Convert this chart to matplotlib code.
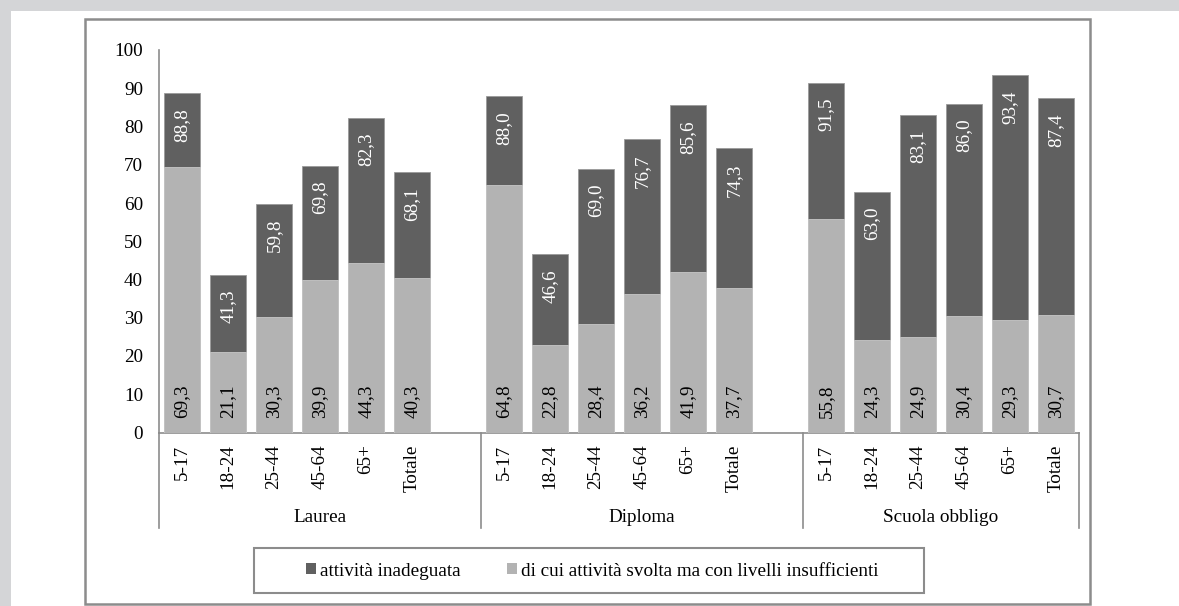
import matplotlib
matplotlib.use("Agg")
import matplotlib.pyplot as plt
from matplotlib.patches import Rectangle, Patch

# Data: share of population by education level and age class
groups = ["Laurea", "Diploma", "Scuola obbligo"]
ages = ["5-17", "18-24", "25-44", "45-64", "65+", "Totale"]

inadeguata_laurea = [88.8, 41.3, 59.8, 69.8, 82.3, 68.1]
inadeguata_diploma = [88.0, 46.6, 69.0, 76.7, 85.6, 74.3]
inadeguata_obbligo = [91.5, 63.0, 83.1, 86.0, 93.4, 87.4]

insufficiente_laurea = [69.3, 21.1, 30.3, 39.9, 44.3, 40.3]
insufficiente_diploma = [64.8, 22.8, 28.4, 36.2, 41.9, 37.7]
insufficiente_obbligo = [55.8, 24.3, 24.9, 30.4, 29.3, 30.7]

y_ticks = [0, 10, 20, 30, 40, 50, 60, 70, 80, 90, 100]

label_dark = "attività inadeguata"
label_light = "di cui attività svolta ma con livelli insufficienti"

DARK = "#606060"
LIGHT = "#b3b3b3"
FRAME = "#8c8c8c"
FONT = "Liberation Serif"
FS = 13.8

W, H = 1179, 606
fig = plt.figure(figsize=(W / 100, H / 100), dpi=100, facecolor="#d4d5d7")

def px(x0, y0, x1, y1):
    """Pixel box (top-left origin) -> figure-fraction rectangle."""
    return (x0 / W, 1 - y1 / H, (x1 - x0) / W, (y1 - y0) / H)

# white page and the chart frame (kept behind the axes)
bx, by, bw, bh = px(11, 11, W, H)
fig.patches.append(Rectangle((bx, by), bw, bh, transform=fig.transFigure,
                             facecolor="white", edgecolor="none", zorder=-3))
fx, fy, fw, fh = px(85, 19, 1090, 604)
fig.patches.append(Rectangle((fx, fy), fw, fh, transform=fig.transFigure,
                             facecolor="white", edgecolor=FRAME, lw=1.8, zorder=-2))

ax = fig.add_axes(px(159, 50, 1079, 432.5))
ax.set_facecolor("none")

inadeguata = [inadeguata_laurea, inadeguata_diploma, inadeguata_obbligo]
insufficiente = [insufficiente_laurea, insufficiente_diploma, insufficiente_obbligo]

slot = 0
group_spans = []
width = 0.78
for g, name in enumerate(groups):
    start = slot
    for i, age in enumerate(ages):
        x = slot
        tot = inadeguata[g][i]
        low = insufficiente[g][i]
        ax.bar(x, tot, width=width, color=DARK, edgecolor="#9a9a9a", lw=0.6, zorder=2)
        ax.bar(x, low, width=width, color=LIGHT, edgecolor="#c8c8c8", lw=0.6, zorder=3)
        ax.annotate(f"{tot:.1f}".replace(".", ","), xy=(x, tot), xytext=(0, -15),
                    textcoords="offset pixels", rotation=90, ha="center", va="top",
                    color="white", fontsize=FS, family=FONT, zorder=5)
        ax.annotate(f"{low:.1f}".replace(".", ","), xy=(x, 0), xytext=(0, 15),
                    textcoords="offset pixels", rotation=90, ha="center", va="bottom",
                    color="black", fontsize=FS, family=FONT, zorder=5)
        ax.annotate(age, xy=(x, 0), xycoords=("data", "axes fraction"),
                    xytext=(0, -12), textcoords="offset pixels", rotation=90,
                    ha="center", va="top", fontsize=FS, family=FONT)
        slot += 1
    end = slot - 1
    # leave an empty slot between education groups
    if g < len(groups) - 1:
        slot += 1
        group_spans.append((start - 0.5, end + 1.5))
    else:
        group_spans.append((start - 0.5, end + 0.5))

ax.set_xlim(-0.5, slot - 0.5)
ax.set_ylim(0, 100)
ax.set_yticks(y_ticks)
ax.set_yticklabels([str(t) for t in y_ticks], fontsize=FS, family=FONT)
ax.tick_params(axis="y", length=0, pad=11.5)
ax.set_xticks([])

for side in ("top", "right"):
    ax.spines[side].set_visible(False)
ax.spines["left"].set_color(FRAME)
ax.spines["left"].set_linewidth(1.2)
ax.spines["bottom"].set_color(FRAME)
ax.spines["bottom"].set_linewidth(1.2)

# multi-level category axis: separators and group names
xt = ax.get_xaxis_transform()
sep_bottom = -(528 - 432.5) / (432.5 - 50)
seps = sorted({s for span in group_spans for s in span})
for s in seps:
    ax.plot([s, s], [0, sep_bottom], transform=xt, color=FRAME, lw=1.2,
            clip_on=False, zorder=1)
name_y = -(517 - 432.5) / (432.5 - 50)
for (a, b), name in zip(group_spans, groups):
    ax.text((a + b) / 2, name_y, name, transform=xt, ha="center", va="center",
            fontsize=FS, family=FONT)

# legend with its own frame
lx, ly, lw_, lh = px(254, 548, 924, 593)
fig.patches.append(Rectangle((lx, ly), lw_, lh, transform=fig.transFigure,
                             facecolor="white", edgecolor=FRAME, lw=1.5, zorder=-1))
handles = [Patch(facecolor=DARK, edgecolor="none", label=label_dark),
           Patch(facecolor=LIGHT, edgecolor="none", label=label_light)]
fig.legend(handles=handles, loc="center", bbox_to_anchor=(592 / W, 1 - 571 / H),
           ncol=2, frameon=False, handlelength=0.55, handleheight=0.55,
           handletextpad=0.2, columnspacing=2.4,
           prop={"family": FONT, "size": FS})

fig.savefig("out.png", dpi=100, facecolor=fig.get_facecolor())
